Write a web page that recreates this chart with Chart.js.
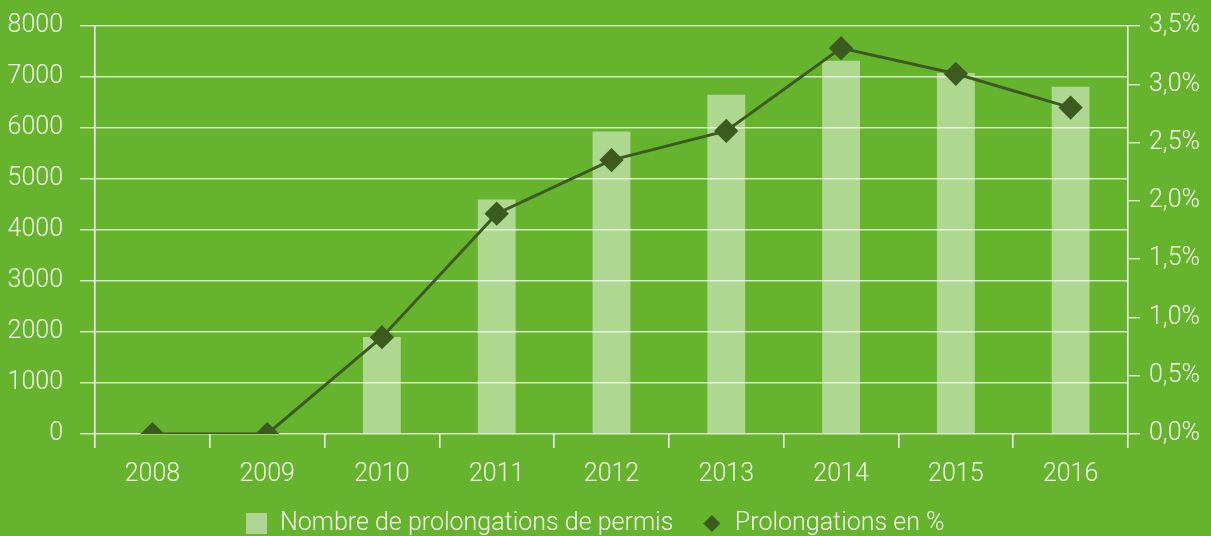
<!DOCTYPE html>
<html>
<head>
<meta charset="utf-8">
<script src="https://cdn.jsdelivr.net/npm/chart.js@4"></script>
<style>
  html, body { margin: 0; padding: 0; background: #66b42e; }
  #wrap { width: 1211px; height: 536px; position: relative; }
</style>
</head>
<body>
<div id="wrap"><canvas id="chart"></canvas></div>
<script>
// values
const years = ['2008', '2009', '2010', '2011', '2012', '2013', '2014', '2015', '2016'];
const permitExtensions = [0, 0, 1900, 4600, 5930, 6650, 7320, 7080, 6810];
const extensionsPct = [0, 0, 0.83, 1.89, 2.35, 2.60, 3.31, 3.09, 2.80];

const BG = '#66b42e';
const BAR = 'rgba(255,255,255,0.47)';
const BAR_SOLID = '#b0d494';
const LINE = '#3b5b1f';
const GRID = 'rgba(255,255,255,0.72)';
const TXT = '#f4f8ee';
const FONT = { family: 'Roboto, "Liberation Sans", sans-serif', size: 25, weight: 300 };

// small legend symbols (square for the bars, diamond for the line)
function legendIcon(kind) {
    const c = document.createElement('canvas');
    const ctx = c.getContext('2d');
    if (kind === 'square') {
        c.width = 21; c.height = 21;
        ctx.fillStyle = BAR_SOLID;
        ctx.fillRect(0, 0, 21, 21);
    } else {
        c.width = 17; c.height = 17;
        ctx.fillStyle = LINE;
        ctx.beginPath();
        ctx.moveTo(8.5, 0);
        ctx.lineTo(17, 8.5);
        ctx.lineTo(8.5, 17);
        ctx.lineTo(0, 8.5);
        ctx.closePath();
        ctx.fill();
    }
    return c;
}
const squareIcon = legendIcon('square');
const diamondIcon = legendIcon('diamond');

const bgPlugin = {
    id: 'bg',
    beforeDraw(chart) {
        const ctx = chart.ctx;
        ctx.save();
        ctx.fillStyle = BG;
        ctx.fillRect(0, 0, chart.width, chart.height);
        ctx.restore();
    }
};

// legend sits a bit left of centre in the original
const legendShift = {
    id: 'legendShift',
    afterLayout(chart) {
        if (chart.legend) {
            chart.legend.left -= 10;
            chart.legend.right -= 10;
        }
    }
};

// no extra room above / below the value axes: the layout padding decides
function noVPad(scale) {
    scale.paddingTop = 0;
    scale.paddingBottom = 0;
}

new Chart(document.getElementById('chart').getContext('2d'), {
    data: {
        labels: years,
        datasets: [
            {
                type: 'line',
                label: 'Prolongations en %',
                data: extensionsPct,
                yAxisID: 'yPct',
                borderColor: LINE,
                backgroundColor: LINE,
                borderWidth: 3,
                pointStyle: 'rectRot',
                pointRadius: 10,
                pointHoverRadius: 10,
                tension: 0,
                order: 0
            },
            {
                type: 'bar',
                label: 'Nombre de prolongations de permis',
                data: permitExtensions,
                yAxisID: 'y',
                backgroundColor: BAR,
                borderWidth: 0,
                barPercentage: 0.33,
                categoryPercentage: 1,
                order: 1
            }
        ]
    },
    options: {
        responsive: true,
        maintainAspectRatio: false,
        animation: false,
        layout: { padding: { top: 26, left: 0, right: 0, bottom: -10 } },
        scales: {
            x: {
                offset: true,
                grid: {
                    offset: true,
                    drawOnChartArea: false,
                    drawTicks: true,
                    tickLength: 14,
                    color: '#ffffff',
                    lineWidth: 1.5
                },
                border: { display: false },
                ticks: { color: TXT, font: FONT, padding: 12 },
                afterFit(scale) { scale.height = 49; }
            },
            y: {
                position: 'left',
                min: 0,
                max: 8000,
                grid: {
                    color: GRID,
                    lineWidth: 1.5,
                    tickLength: 15
                },
                border: { display: true, color: '#ffffff', width: 1.5 },
                ticks: {
                    stepSize: 1000,
                    color: TXT,
                    font: FONT,
                    padding: 17,
                    callback: v => String(v)
                },
                afterFit(scale) { scale.width = 95; noVPad(scale); }
            },
            yPct: {
                position: 'right',
                min: 0,
                max: 3.5,
                grid: {
                    drawOnChartArea: false,
                    color: GRID,
                    lineWidth: 1.5,
                    tickLength: 12
                },
                border: { display: true, color: '#ffffff', width: 1.5 },
                ticks: {
                    stepSize: 0.5,
                    color: TXT,
                    font: FONT,
                    padding: 9,
                    callback: v => v.toFixed(1).replace('.', ',') + '%'
                },
                afterFit(scale) { scale.width = 83; noVPad(scale); }
            }
        },
        plugins: {
            legend: {
                position: 'bottom',
                labels: {
                    color: TXT,
                    font: FONT,
                    usePointStyle: true,
                    boxWidth: 21,
                    boxHeight: 21,
                    padding: 28,
                    generateLabels(chart) {
                        const items = Chart.defaults.plugins.legend.labels.generateLabels(chart);
                        items.forEach(it => {
                            it.pointStyle = it.datasetIndex === 1 ? squareIcon : diamondIcon;
                        });
                        return items;
                    }
                },
                reverse: true
            },
            tooltip: { enabled: false }
        }
    },
    plugins: [bgPlugin, legendShift]
});
</script>
</body>
</html>
